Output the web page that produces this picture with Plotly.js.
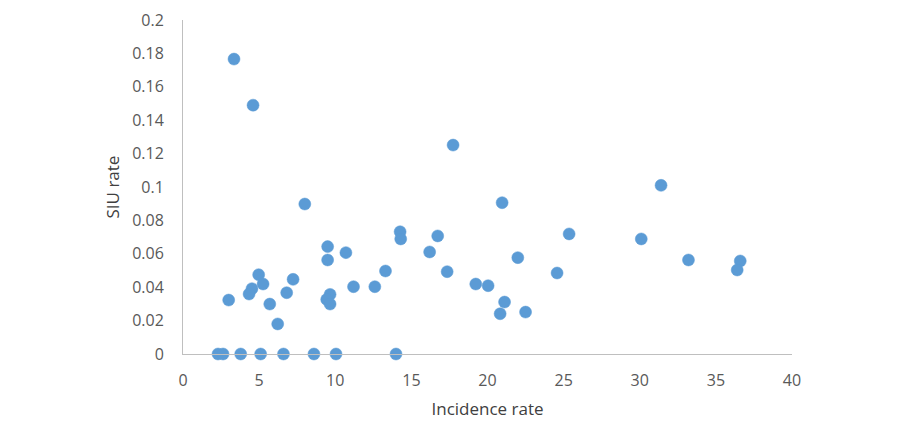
<!DOCTYPE html>
<html>
<head>
<meta charset="utf-8">
<script src="https://cdn.plot.ly/plotly-3.0.1.min.js"></script>
<style>html,body{margin:0;padding:0;background:#fff;}#chart{width:900px;height:443px;}</style>
</head>
<body>
<div id="chart"></div>
<script>
const incidenceRate = [3.35, 4.6, 17.74, 31.4, 8.0, 20.96, 14.26, 14.3, 16.73, 25.36, 30.1,
  9.5, 10.7, 16.2, 9.5, 21.99, 33.2, 36.6, 36.4, 17.35, 13.3, 24.57, 4.97, 7.23, 5.26,
  19.23, 20.04, 4.53, 4.34, 6.81, 11.2, 12.6, 9.66, 9.44, 9.66, 3.0, 5.7, 21.12, 20.83,
  22.5, 6.22, 2.3, 2.63, 3.79, 5.1, 6.6, 8.6, 10.05, 13.99];
const siuRate = [0.1766, 0.149, 0.1251, 0.101, 0.0898, 0.0906, 0.0732, 0.0689, 0.0707, 0.0719, 0.0689,
  0.0643, 0.0607, 0.0611, 0.0563, 0.0577, 0.0563, 0.0557, 0.0503, 0.0493, 0.0497, 0.0485, 0.0475, 0.0447, 0.0419,
  0.0419, 0.0409, 0.0391, 0.0359, 0.0367, 0.0403, 0.0403, 0.0357, 0.0327, 0.0299, 0.0323, 0.0299, 0.0311, 0.0241,
  0.0251, 0.018, 0, 0, 0, 0, 0, 0, 0, 0];
const xTitle = "Incidence rate";
const yTitle = "SIU rate";
const xTicks = [0, 5, 10, 15, 20, 25, 30, 35, 40];
const yTicks = [0, 0.02, 0.04, 0.06, 0.08, 0.1, 0.12, 0.14, 0.16, 0.18, 0.2];

const fontFam = "Open Sans, Liberation Sans, sans-serif";
Plotly.newPlot('chart', [{
  x: incidenceRate, y: siuRate, type: 'scatter', mode: 'markers',
  marker: {color: '#5B9BD5', size: 12, line: {color: '#5B9BD5', width: 0.5}},
  cliponaxis: false, hoverinfo: 'x+y'
}], {
  width: 900, height: 443,
  margin: {l: 183, r: 108, t: 20, b: 89},
  paper_bgcolor: '#fff', plot_bgcolor: '#fff',
  showlegend: false,
  font: {family: fontFam, size: 16, color: '#595959'},
  xaxis: {
    range: [0, 40], tickvals: xTicks, ticktext: xTicks.map(String),
    showgrid: false, zeroline: false, showline: true, linecolor: '#BFBFBF', linewidth: 1,
    ticks: 'outside', ticklen: 12, tickcolor: 'rgba(0,0,0,0)',
    tickfont: {family: fontFam, size: 16, color: '#595959'},
    title: {text: xTitle, font: {family: fontFam, size: 17, color: '#404040'}, standoff: 12}
  },
  yaxis: {
    range: [0, 0.2], tickvals: yTicks, ticktext: yTicks.map(String),
    showgrid: false, zeroline: false, showline: true, linecolor: '#BFBFBF', linewidth: 1,
    ticks: 'outside', ticklen: 15, tickcolor: 'rgba(0,0,0,0)',
    tickfont: {family: fontFam, size: 16, color: '#595959'},
    title: {text: yTitle, font: {family: fontFam, size: 17, color: '#404040'}, standoff: 8}
  }
}, {displayModeBar: false, staticPlot: true});
</script>
</body>
</html>
